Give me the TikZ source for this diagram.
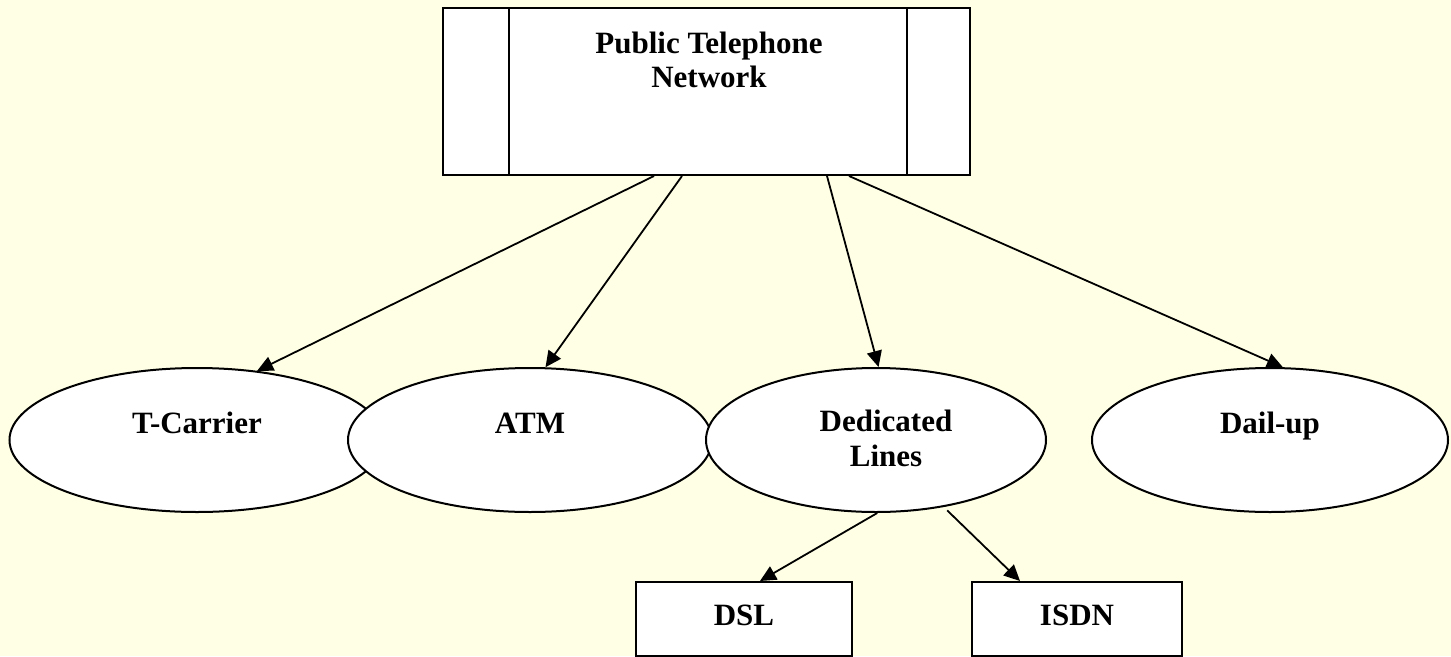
\documentclass[tikz,border=0pt]{standalone}
\usepackage{fontspec}
\setmainfont{Liberation Serif}
\usetikzlibrary{shapes.geometric,arrows.meta,calc}
\definecolor{bgyellow}{RGB}{255,255,230}
\tikzset{
  oval/.style={ellipse,draw=black,fill=white,line width=2pt,inner sep=0pt,minimum height=144pt},
  boxnode/.style={rectangle,draw=black,fill=white,line width=2pt,inner sep=0pt},
  lbl/.style={font=\fontsize{31}{34.5}\selectfont\bfseries,align=center,inner sep=0pt},
  arr/.style={line width=1.8pt,-{Triangle[length=16pt,width=15pt]}},
}
\begin{document}
\begin{tikzpicture}[x=1pt,y=-1pt]
\fill[bgyellow] (0,0) rectangle (1451,656);
\useasboundingbox (0,0) rectangle (1451,656);
% top box
\node[boxnode,minimum width=527pt,minimum height=167pt] (ptn) at (706.5,91.5) {};
\draw[line width=2pt] ($(ptn.north west)+(67,0)$) -- ($(ptn.south west)+(67,0)$);
\draw[line width=2pt] ($(ptn.north east)+(-64,0)$) -- ($(ptn.south east)+(-64,0)$);
\node[lbl] (ptnt) at (709,60) {Public Telephone\\Network};
% ellipses
\node[oval,minimum width=375pt] (tc) at (197,440) {};
\node[lbl,anchor=base] (tct) at (197,433) {T-Carrier};
\node[oval,minimum width=364pt] (atm) at (530,440) {};
\node[lbl,anchor=base] (atmt) at (530,433) {ATM};
\node[oval,minimum width=340pt] (ded) at (876,440) {};
\node[lbl] (dedt) at (886,438.5) {Dedicated\\Lines};
\node[oval,minimum width=356pt] (dial) at (1270,440) {};
\node[lbl,anchor=base] (dialt) at (1270,433) {Dail-up};
% bottom boxes
\node[boxnode,minimum width=216pt,minimum height=74pt] (dsl) at (744,619) {};
\node[lbl,anchor=base] (dslt) at (744,625) {DSL};
\node[boxnode,minimum width=210pt,minimum height=74pt] (isdn) at (1077,619) {};
\node[lbl,anchor=base] (isdnt) at (1077,625) {ISDN};
% arrows
\draw[arr] ($(ptn.south west)+(212,0)$) -- (tc.49);
\draw[arr] ($(ptn.south west)+(240,0)$) -- (atm.78);
\draw[arr] ($(ptn.south west)+(385,0)$) -- (ded.88);
\draw[arr] ($(ptn.south west)+(407,0)$) -- (dial.80);
\draw[arr] (ded.-89) -- ($(dsl.north)+(16,0)$);
\draw[arr] ($(ded.-43)+(0,4)$) -- ($(isdn.north)+(-57,0)$);
\end{tikzpicture}
\end{document}
